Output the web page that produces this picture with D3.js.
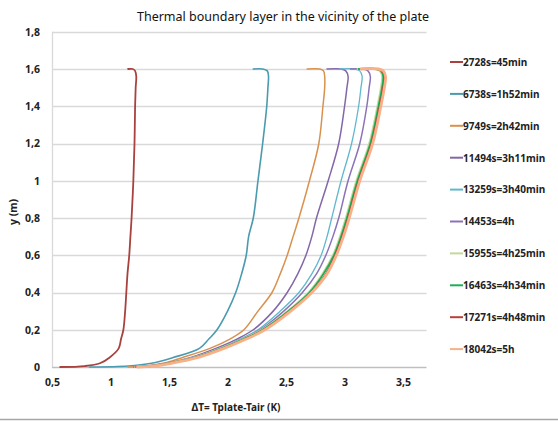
<!DOCTYPE html>
<html>
<head>
<meta charset="utf-8">
<script src="https://cdn.jsdelivr.net/npm/d3@7"></script>
<style>
html,body{margin:0;padding:0;background:#fff;}
svg{display:block;}
text{font-family:"Noto Sans","Open Sans",sans-serif;}
</style>
</head>
<body>
<svg id="chart" width="558" height="421"></svg>
<script>
// ---- data ----
const title = "Thermal boundary layer in the vicinity of the plate";
const xTitle = "ΔT= Tplate-Tair (K)";
const yTitle = "y (m)";
const xTicks = [0.5, 1, 1.5, 2, 2.5, 3, 3.5];
const yTicks = [0, 0.2, 0.4, 0.6, 0.8, 1, 1.2, 1.4, 1.6, 1.8];
const seriesNames = ["2728s=45min","6738s=1h52min","9749s=2h42min","11494s=3h11min","13259s=3h40min",
  "14453s=4h","15955s=4h25min","16463s=4h34min","17271s=4h48min","18042s=5h"];
const seriesColors = ["#A8423F","#4A9BB0","#D9914E","#8467A8","#5FB8CC","#8C72B8","#C4D89C","#1DAE58","#B8403C","#F8B086"];
// height above plate (m) shared by all series; last two points trace the top edge
const yLevels = [0,0.005,0.02,0.05,0.1,0.15,0.2,0.3,0.4,0.5,0.6,0.7,0.8,1.0,1.2,1.4,1.5,1.56,1.59,1.6,1.6];
const dT_2728  = [0.57,0.78,0.91,0.99,1.07,1.09,1.11,1.125,1.135,1.145,1.16,1.17,1.18,1.195,1.205,1.21,1.215,1.22,1.21,1.19,1.15];
const dT_6738  = [0.82,1.15,1.35,1.53,1.76,1.84,1.91,2.0,2.07,2.12,2.16,2.18,2.22,2.26,2.30,2.335,2.345,2.35,2.34,2.30,2.22];
const dT_9749  = [1.15,1.30,1.45,1.61,1.85,2.02,2.14,2.26,2.38,2.45,2.51,2.56,2.61,2.70,2.78,2.815,2.83,2.83,2.82,2.79,2.68];
const dT_11494 = [1.20,1.32,1.48,1.68,1.90,2.08,2.22,2.39,2.51,2.60,2.67,2.72,2.76,2.86,2.95,3.0,3.02,3.03,3.01,2.97,2.85];
const dT_13259 = [1.20,1.33,1.50,1.70,1.93,2.11,2.26,2.45,2.61,2.72,2.80,2.85,2.89,2.97,3.06,3.12,3.14,3.15,3.13,3.09,2.96];
const dT_14453 = [1.20,1.33,1.50,1.71,1.94,2.12,2.28,2.48,2.64,2.76,2.84,2.90,2.95,3.03,3.13,3.19,3.21,3.22,3.20,3.16,3.05];
const dT_15955 = [1.21,1.34,1.49,1.71,1.94,2.13,2.29,2.51,2.69,2.81,2.90,2.96,3.01,3.10,3.21,3.28,3.31,3.32,3.30,3.26,3.11];
const dT_16463 = [1.22,1.35,1.50,1.72,1.95,2.14,2.30,2.52,2.70,2.82,2.91,2.97,3.02,3.11,3.22,3.29,3.32,3.33,3.31,3.27,3.12];
const dT_17271 = [1.22,1.35,1.51,1.73,1.96,2.15,2.31,2.53,2.71,2.84,2.92,2.98,3.03,3.12,3.23,3.30,3.33,3.34,3.32,3.28,3.13];
const dT_18042 = [1.23,1.36,1.52,1.74,1.97,2.16,2.32,2.54,2.72,2.85,2.93,2.99,3.04,3.13,3.24,3.31,3.34,3.35,3.33,3.29,3.14];
const seriesValues = [dT_2728,dT_6738,dT_9749,dT_11494,dT_13259,dT_14453,dT_15955,dT_16463,dT_17271,dT_18042];
const seriesWidths = [1.8,1.6,1.5,1.5,1.3,1.5,1.8,1.8,1.8,2.8];

// ---- chart ----
const svg = d3.select("#chart");
const fmt = v => String(v).replace(".", ",");
const x = d3.scaleLinear().domain([0.5, 3.7]).range([52, 426.5]);
const y = d3.scaleLinear().domain([0, 1.8]).range([367, 31.75]);

// gridlines
svg.append("g").selectAll("line").data(yTicks.filter(t => t > 0)).join("line")
  .attr("x1", x(0.5)).attr("x2", x(3.7))
  .attr("y1", d => Math.round(y(d)) + 0.5).attr("y2", d => Math.round(y(d)) + 0.5)
  .attr("stroke", "#D9D9D9").attr("stroke-width", 1.3);

// axis lines
svg.append("line").attr("x1", x(0.5) + 0.5).attr("x2", x(0.5) + 0.5)
  .attr("y1", y(1.8)).attr("y2", y(0)).attr("stroke", "#D9D9D9").attr("stroke-width", 1.3);
svg.append("line").attr("x1", x(0.5)).attr("x2", x(3.7))
  .attr("y1", y(0) + 0.5).attr("y2", y(0) + 0.5).attr("stroke", "#BFBFBF").attr("stroke-width", 1.3);

// tick labels
const yAxis = d3.axisLeft(y).tickValues(yTicks).tickFormat(fmt).tickSize(0).tickPadding(12);
const gy = svg.append("g").attr("transform", `translate(${x(0.5)},0)`).call(yAxis);
gy.select(".domain").remove();
gy.selectAll("text").attr("font-size", 10.5).attr("font-weight", "bold").attr("fill", "#222")
  .attr("font-family", "'Noto Sans',sans-serif");

const xAxis = d3.axisBottom(x).tickValues(xTicks).tickFormat(fmt).tickSize(0).tickPadding(12);
const gx = svg.append("g").attr("transform", `translate(0,${y(0)})`).call(xAxis);
gx.select(".domain").remove();
gx.selectAll("text").attr("font-size", 10.5).attr("font-weight", "bold").attr("fill", "#222")
  .attr("font-family", "'Noto Sans',sans-serif");

// series
const line = d3.line().x(d => x(d[0])).y(d => y(d[1])).curve(d3.curveCatmullRom.alpha(0.5));
seriesValues.forEach((vals, i) => {
  const pts = vals.map((v, k) => [v, yLevels[k]]);
  svg.append("path").datum(pts).attr("d", line)
    .attr("fill", "none").attr("stroke", seriesColors[i])
    .attr("stroke-width", seriesWidths[i]).attr("stroke-linejoin", "round").attr("stroke-linecap", "round");
});

// title
svg.append("text").attr("x", 283).attr("y", 21).attr("text-anchor", "middle")
  .attr("font-size", 12.5).attr("fill", "#111").text(title);
// axis titles
svg.append("text").attr("x", 236).attr("y", 411).attr("text-anchor", "middle")
  .attr("font-size", 10).attr("font-weight", "bold").attr("fill", "#222").text(xTitle);
svg.append("text").attr("transform", "translate(17,212) rotate(-90)").attr("text-anchor", "middle")
  .attr("font-size", 10.5).attr("font-weight", "bold").attr("fill", "#222").text(yTitle);

// legend
const leg = svg.append("g");
seriesNames.forEach((n, i) => {
  const ly = 62 + i * 31.9;
  leg.append("line").attr("x1", 450).attr("x2", 463).attr("y1", ly).attr("y2", ly)
    .attr("stroke", seriesColors[i]).attr("stroke-width", 2);
  leg.append("text").attr("x", 463).attr("y", ly + 3.8).attr("font-size", 10)
    .attr("font-weight", "bold").attr("fill", "#222").text(n);
});

// bottom border of chart frame
svg.append("line").attr("x1", 0).attr("x2", 558).attr("y1", 419.5).attr("y2", 419.5)
  .attr("stroke", "#A6A6A6").attr("stroke-width", 1.5);
</script>
</body>
</html>
